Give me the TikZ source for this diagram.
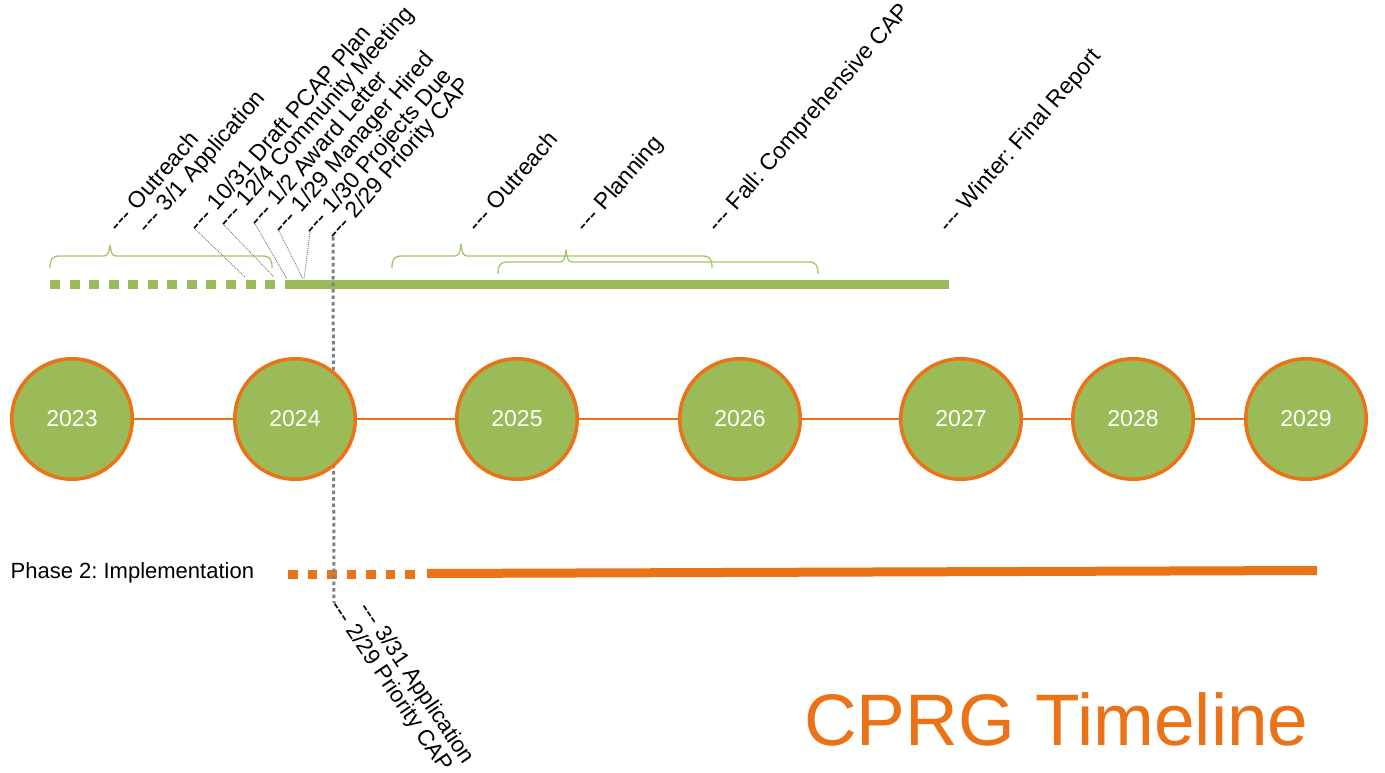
\documentclass[tikz,border=0pt]{standalone}
\usepackage{fontspec}
\setmainfont{Liberation Sans}[Ligatures=TeXOff]
\usetikzlibrary{calc}
\definecolor{cgreen}{RGB}{155,187,89}
\definecolor{cbrace}{RGB}{165,197,105}
\definecolor{corange}{RGB}{235,114,23}
\definecolor{cgray}{RGB}{128,128,128}
\newcommand{\hyx}{-{}-{}-}
\newcommand{\cbrace}[6]{% x1 x2 xpeak ytop ybot ypeak
  \draw[bracestyle] (#1,#5) .. controls (#1,#4+3) and (#1+2,#4) .. (#1+10,#4) -- (#3-6,#4)
    .. controls (#3-2,#4) and (#3-1,#4-4) .. (#3,#6)
    .. controls (#3+1,#4-4) and (#3+2,#4) .. (#3+6,#4) -- (#2-10,#4)
    .. controls (#2-2,#4) and (#2,#4+3) .. (#2,#5);}
\frenchspacing
\begin{document}
\begin{tikzpicture}[x=1pt,y=-1pt,
  lab/.style={anchor=base west, inner sep=0pt, font=\fontsize{23}{27}\selectfont, rotate=49},
  blab/.style={anchor=base west, inner sep=0pt, font=\fontsize{22.5}{27}\selectfont, rotate=-56},
  year/.style={circle, fill=cgreen, draw=corange, line width=3.5pt, minimum size=120.5pt, inner sep=0pt, text=white, font=\fontsize{23}{27}\selectfont},
  yline/.style={draw=corange, line width=1.5pt},
  leader/.style={draw=black!55, line width=0.8pt, dash pattern=on 1pt off 1pt},
  vline/.style={draw=cgray, line width=3pt, dash pattern=on 3.5pt off 3pt},
  gbar/.style={draw=cgreen, line width=9pt},
  obar/.style={draw=corange, line width=9pt},
  bracestyle/.style={draw=cbrace, line width=1.3pt, line join=round},
]
\useasboundingbox (0,0) rectangle (1385,773);

% braces
\cbrace{50}{272}{110}{256}{268}{245}
\cbrace{392}{712}{461}{256}{268}{244}
\cbrace{498}{818}{566}{262}{274}{250}

% green bar
\draw[gbar, dash pattern=on 10pt off 9.55pt] (50,284) -- (275,284);
\draw[gbar] (285,284) -- (949,284);

% orange phase 2 bar
\draw[obar, dash pattern=on 9.5pt off 10pt] (288,574) -- (415,574);
\draw[obar] (427,573.5) -- (1317,570.5);
\node[anchor=base west, inner sep=0pt, font=\fontsize{22}{26}\selectfont] (phase) at (10.5,578) {Phase 2: Implementation};

% dash start coordinates of top labels
\coordinate (d1) at (115,229);
\coordinate (d2) at (144,230);
\coordinate (d3) at (195,229);
\coordinate (d4) at (224,225);
\coordinate (d5) at (255,224);
\coordinate (d6) at (279,231);
\coordinate (d7) at (310,232);
\coordinate (d8) at (333,237);
\coordinate (d9) at (474,229);
\coordinate (d10) at (582,229);
\coordinate (d11) at (714,229);
\coordinate (d12) at (945,229);
% bottom labels
\coordinate (db1) at (334,603);
\coordinate (db2) at (363,605);

\node[lab] (t1) at ([shift={(3.6,4.8)}]d1) {\hyx{} Outreach};
\node[lab] (t2) at ([shift={(3.6,4.8)}]d2) {\hyx{} 3/1 Application};
\node[lab] (t3) at ([shift={(3.6,4.8)}]d3) {\hyx{} 10/31 Draft PCAP Plan};
\node[lab] (t4) at ([shift={(3.6,4.8)}]d4) {\hyx{} 12/4 Community Meeting};
\node[lab] (t5) at ([shift={(3.6,4.8)}]d5) {\hyx{} 1/2 Award Letter};
\node[lab] (t6) at ([shift={(3.6,4.8)}]d6) {\hyx{} 1/29 Manager Hired};
\node[lab] (t7) at ([shift={(3.6,4.8)}]d7) {\hyx{} 1/30 Projects Due};
\node[lab] (t8) at ([shift={(3.6,4.8)}]d8) {\hyx{} 2/29 Priority CAP};
\node[lab] (t9) at ([shift={(3.6,4.8)}]d9) {\hyx{} Outreach};
\node[lab] (t10) at ([shift={(3.6,4.8)}]d10) {\hyx{} Planning};
\node[lab] (t11) at ([shift={(3.6,4.8)}]d11) {\hyx{} Fall: Comprehensive CAP};
\node[lab] (t12) at ([shift={(3.6,4.8)}]d12) {\hyx{} Winter: Final Report};

\node[blab] (b1) at ([shift={(-5,3.4)}]db1) {\hyx{} 2/29 Priority CAP};
\node[blab] (b2) at ([shift={(-5,3.4)}]db2) {\hyx{} 3/31 Application};

% leader lines
\coordinate (e3) at (245,277);
\coordinate (e4) at (274,277);
\coordinate (e5) at (287,279);
\coordinate (e6) at (303,279);
\coordinate (e7) at (304,279);
\draw[leader] (d3) -- (e3);
\draw[leader] (d4) -- (e4);
\draw[leader] (d5) -- (e5);
\draw[leader] (d6) -- (e6);
\draw[leader] (d7) -- (e7);

% vertical 2/29 line
\draw[vline] (d8) -- (db1);

% year circles
\node[year] (y23) at (72,419) {2023};
\node[year] (y24) at (295,419) {2024};
\node[year] (y25) at (517,419) {2025};
\node[year] (y26) at (740,419) {2026};
\node[year] (y27) at (961,419) {2027};
\node[year] (y28) at (1133,419) {2028};
\node[year] (y29) at (1306,419) {2029};
\draw[yline] (y23) -- (y24);
\draw[yline] (y24) -- (y25);
\draw[yline] (y25) -- (y26);
\draw[yline] (y26) -- (y27);
\draw[yline] (y27) -- (y28);
\draw[yline] (y28) -- (y29);

% title
\node[anchor=base west, inner sep=0pt, text=corange, font=\fontsize{73}{80}\selectfont] (title) at (804,745) {CPRG Timeline};
\end{tikzpicture}
\end{document}
